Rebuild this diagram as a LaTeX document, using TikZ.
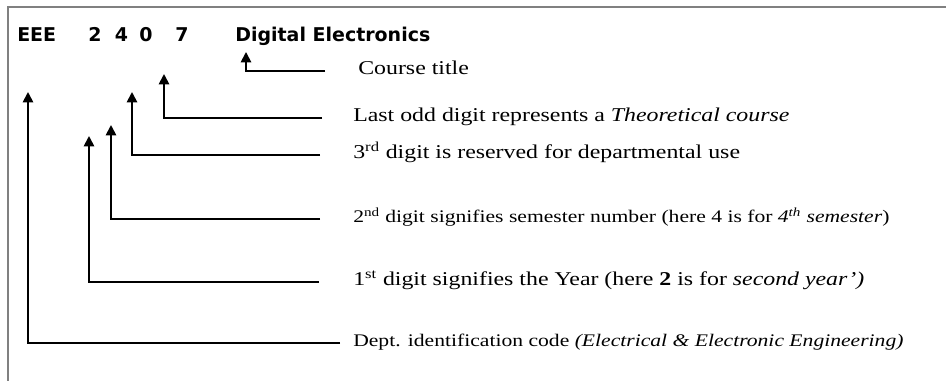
\documentclass[tikz,border=0pt]{standalone}
\usepackage{fontspec}
\setmainfont[FakeStretch=1.22]{Liberation Serif}
\newfontfamily\headfont{DejaVu Sans}
\usetikzlibrary{arrows.meta,positioning}

\begin{document}
\begin{tikzpicture}[x=0.025cm,y=-0.025cm,
    head/.style={font=\headfont\bfseries\fontsize{13.5}{16}\selectfont,inner sep=0pt,anchor=base west},
    digit/.style={head,anchor=base},
    desc/.style={anchor=west,inner sep=0pt,text height=0.7em,text depth=0.2em,font=\fontsize{13.9}{16}\selectfont},
    descsmall/.style={desc,font=\fontsize{12.6}{14}\selectfont},
    pointer/.style={line width=1.3pt,-{Triangle[length=0.26cm,width=0.26cm]}}]
  \useasboundingbox (0,0) rectangle (946,381);
  % page frame
  \draw[gray,line width=0.8pt] (946,7) -- (8,7) -- (8,381);

  % course code line
  \node[head] (dept) at (17,42) {EEE};
  \node[digit] (d1) at (95,42) {2};
  \node[digit] (d2) at (121.5,42) {4};
  \node[digit] (d3) at (146,42) {0};
  \node[digit] (d4) at (182,42) {7};
  \node[head] (title) at (235,42) {Digital Electronics};

  % descriptions
  \node[desc] (lbltitle) at (358,71) {Course title};
  \node[desc] (lbllast) at (353,118) {Last odd digit represents a \textit{Theoretical course}};
  \node[desc] (lblthird) at (353,155) {3\textsuperscript{rd} digit is reserved for departmental use};
  \node[descsmall] (lblsecond) at (353,219) {2\textsuperscript{nd} digit signifies semester number (here 4 is for \textit{4\textsuperscript{th} semester})};
  \node[desc] (lblfirst) at (353,282) {1\textsuperscript{st} digit signifies the Year (here \textbf{2} is for \textit{second year’)}};
  \node[descsmall] (lbldept) at (353,343) {Dept. identification code \textit{(Electrical \& Electronic Engineering)}};

  % arrow tips
  \coordinate (ttitle) at (246,52);
  \coordinate (tlast) at (164,74);
  \coordinate (tthird) at (132,92);
  \coordinate (tsecond) at (111,125);
  \coordinate (tfirst) at (89,136);
  \coordinate (tdept) at (28,92);

  % pointers
  \draw[pointer] (lbltitle.west) ++(-33,0) -| (ttitle);
  \draw[pointer] (lbllast.west) ++(-31,0) -| (tlast);
  \draw[pointer] (lblthird.west) ++(-33,0) -| (tthird);
  \draw[pointer] (lblsecond.west) ++(-33,0) -| (tsecond);
  \draw[pointer] (lblfirst.west) ++(-34,0) -| (tfirst);
  \draw[pointer] (lbldept.west) ++(-13,0) -| (tdept);
\end{tikzpicture}
\end{document}
